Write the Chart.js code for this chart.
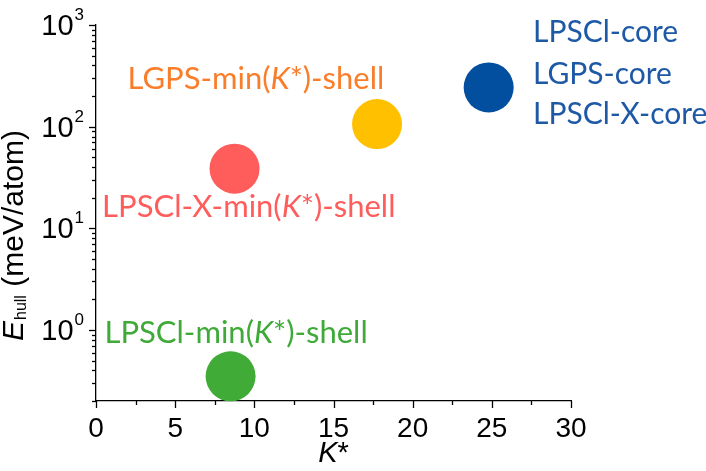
<!DOCTYPE html>
<html><head><meta charset="utf-8">
<script src="https://cdn.jsdelivr.net/npm/chart.js@4"></script>
<style>html,body{margin:0;padding:0;background:#fff}</style>
</head><body>
<canvas id="c" width="706" height="471"></canvas>
<script>
// ---- data ----
const pointNames = ['LPSCl-min(K*)-shell', 'LPSCl-X-min(K*)-shell', 'LGPS-min(K*)-shell', 'cores'];
const kStar = [8.5, 8.75, 17.75, 24.8];
const eHull = [0.35, 38.6, 106, 243];
const xTickValues = [0, 5, 10, 15, 20, 25, 30];
const xMinorStep = 2.5;
const yTickExponents = [0, 1, 2, 3];
const coreLabels = ['LPSCl-core', 'LGPS-core', 'LPSCl-X-core'];

// ---- style / layout ----
const pointColors = ['#41AB37', '#FF5C5C', '#FFC000', '#024F9F'];
const AX_FONT = '"Liberation Sans", Arial, sans-serif';
const LBL_FONT = 'Lato, "Open Sans", sans-serif';
// annotation anchors in data space
const annotations = [
  {segs: [['LPSCl-min(', 0], ['K', 1], ['*)-shell', 0]], x: 8.85, y: 0.75, align: 'center', color: '#3FAA38', size: 31},
  {segs: [['LPSCl-X-min(', 0], ['K', 1], ['*)-shell', 0]], x: 9.65, y: 12.9, align: 'center', color: '#FF5C5C', size: 31},
  {segs: [['LGPS-min(', 0], ['K', 1], ['*)-shell', 0]], x: 10.1, y: 232, align: 'center', color: '#FA7D2A', size: 31},
  {segs: [[coreLabels[0], 0]], x: 27.6, y: 681, align: 'left', color: '#1E59A6', size: 30},
  {segs: [[coreLabels[1], 0]], x: 27.6, y: 260, align: 'left', color: '#1E59A6', size: 30},
  {segs: [[coreLabels[2], 0]], x: 27.6, y: 106, align: 'left', color: '#1E59A6', size: 30}
];

function drawSegs(ctx, segs, x, y, align, size, family) {
  const fonts = segs.map(s => (s[1] ? 'italic ' : '') + size + 'px ' + family);
  let total = 0;
  const widths = segs.map((s, i) => { ctx.font = fonts[i]; const w = ctx.measureText(s[0]).width; total += w; return w; });
  let cx = align === 'center' ? x - total / 2 : x;
  ctx.textAlign = 'left';
  ctx.textBaseline = 'alphabetic';
  segs.forEach((s, i) => { ctx.font = fonts[i]; ctx.fillText(s[0], cx, y); cx += widths[i]; });
}

const decor = {
  id: 'decor',
  afterDraw(chart) {
    const ctx = chart.ctx;
    const xs = chart.scales.x, ys = chart.scales.y;
    const ca = chart.chartArea;
    ctx.save();
    ctx.strokeStyle = '#000';
    ctx.fillStyle = '#000';
    ctx.lineWidth = 1.3;
    // x ticks
    for (let v = xs.min; v <= xs.max + 1e-9; v += xMinorStep) {
      const px = Math.round(xs.getPixelForValue(v)) + 0.5;
      const major = xTickValues.includes(v);
      ctx.beginPath(); ctx.moveTo(px, ca.bottom); ctx.lineTo(px, ca.bottom + (major ? 7 : 4)); ctx.stroke();
    }
    // y ticks
    const e0 = Math.floor(Math.log10(ys.min)), e1 = Math.ceil(Math.log10(ys.max));
    for (let e = e0; e <= e1; e++) {
      for (let m = 1; m <= 9; m++) {
        const v = m * Math.pow(10, e);
        if (v < ys.min * 0.999 || v > ys.max * 1.001) continue;
        const py = Math.round(ys.getPixelForValue(v)) + 0.5;
        ctx.beginPath(); ctx.moveTo(ca.left, py); ctx.lineTo(ca.left - (m === 1 ? 7 : 4), py); ctx.stroke();
      }
    }
    // x tick labels
    ctx.font = '28px ' + AX_FONT;
    ctx.textAlign = 'center'; ctx.textBaseline = 'alphabetic';
    xTickValues.forEach(v => ctx.fillText(String(v), xs.getPixelForValue(v), ca.bottom + 36));
    // y tick labels 10^n
    yTickExponents.forEach(n => {
      const py = ys.getPixelForValue(Math.pow(10, n));
      const right = ca.left - 12;
      ctx.font = '17px ' + AX_FONT;
      const sw = ctx.measureText(String(n)).width;
      ctx.textAlign = 'right';
      ctx.fillText(String(n), right, py - 5);
      ctx.font = '29px ' + AX_FONT;
      ctx.fillText('10', right - sw - 1, py + 10);
    });
    // x title
    drawSegs(ctx, [['K', 1], ['*', 0]], (ca.left + ca.right) / 2, ca.bottom + 61, 'center', 29, AX_FONT);
    // y title
    ctx.save();
    ctx.translate(23, 341);
    ctx.rotate(-Math.PI / 2);
    ctx.textAlign = 'left'; ctx.textBaseline = 'alphabetic';
    ctx.font = 'italic 30px ' + AX_FONT;
    let off = 0;
    ctx.fillText('E', off, 0); off += ctx.measureText('E').width + 1;
    ctx.font = '16px ' + AX_FONT;
    ctx.fillText('hull', off, 3); off += ctx.measureText('hull').width;
    ctx.font = '30px ' + AX_FONT;
    ctx.fillText(' (meV/atom)', off, 0);
    ctx.restore();
    // annotations
    annotations.forEach(a => {
      ctx.fillStyle = a.color;
      drawSegs(ctx, a.segs, xs.getPixelForValue(a.x), ys.getPixelForValue(a.y), a.align, a.size, LBL_FONT);
    });
    ctx.restore();
  }
};

new Chart(document.getElementById('c'), {
  type: 'scatter',
  data: {
    datasets: [{
      label: 'points',
      data: kStar.map((k, i) => ({x: k, y: eHull[i]})),
      backgroundColor: pointColors,
      borderWidth: 0,
      pointRadius: 25,
      pointHoverRadius: 25,
      clip: false
    }]
  },
  options: {
    responsive: false,
    animation: false,
    events: [],
    layout: {padding: {top: 18, right: 135, left: 0, bottom: 0}},
    plugins: {legend: {display: false}, tooltip: {enabled: false}},
    scales: {
      x: {
        type: 'linear', min: 0, max: 30,
        grid: {display: false},
        border: {display: true, color: '#000', width: 1.3},
        ticks: {display: false},
        afterFit(s) { s.height = 70; }
      },
      y: {
        type: 'logarithmic', min: 0.2, max: 1000,
        grid: {display: false},
        border: {display: true, color: '#000', width: 1.3},
        ticks: {display: false},
        afterFit(s) { s.width = 96; }
      }
    }
  },
  plugins: [decor]
});
</script>
</body></html>
